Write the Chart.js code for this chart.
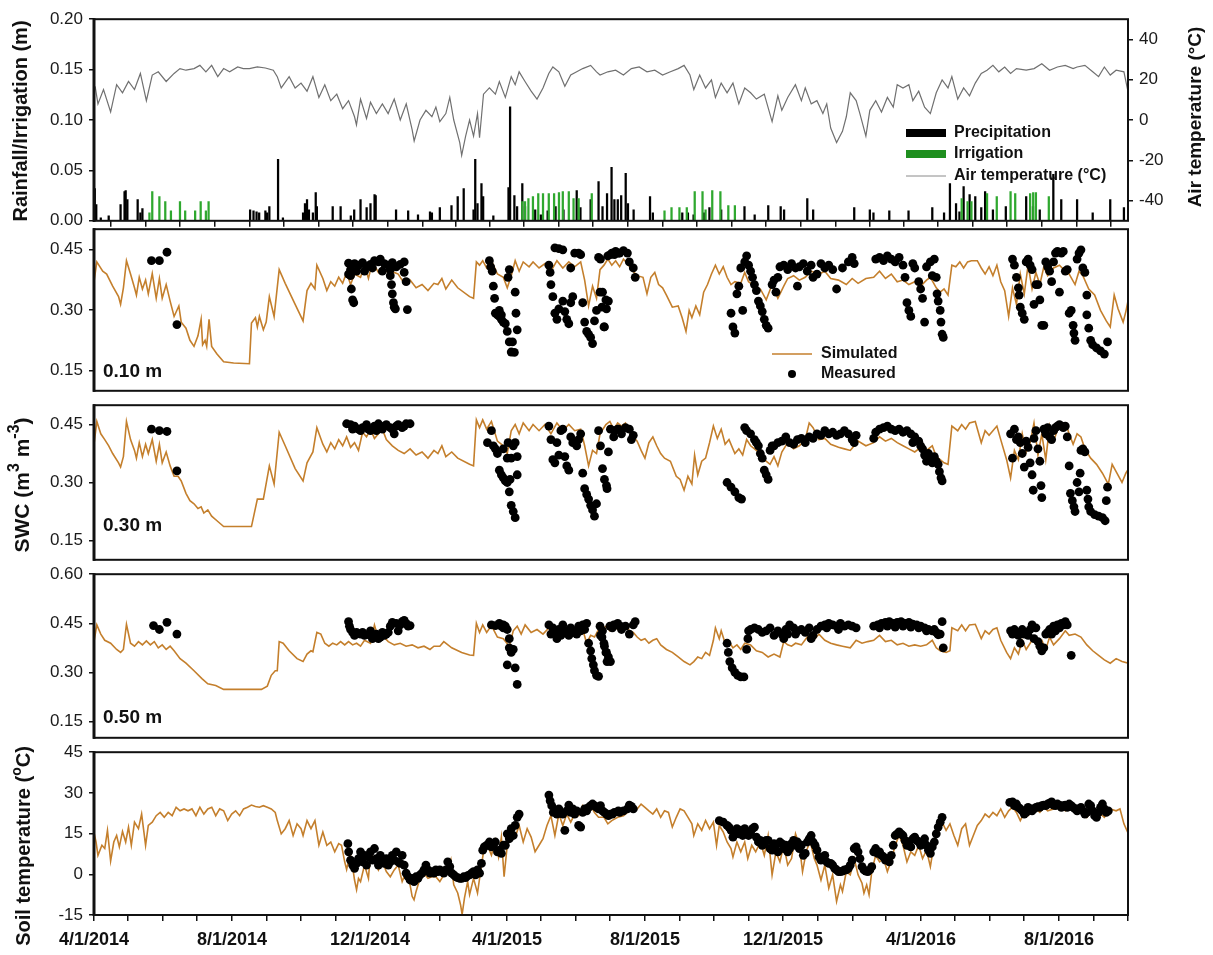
<!DOCTYPE html>
<html>
<head>
<meta charset="utf-8">
<script src="https://cdn.jsdelivr.net/npm/chart.js@4.4.1/dist/chart.umd.min.js"></script>
<style>
  body { margin: 0; background: #fff; }
  #wrap { position: relative; width: 1213px; height: 955px; overflow: hidden; background: #fff; }
  #wrap canvas { position: absolute; left: 0; }
</style>
</head>
<body>
<div id="wrap">
  <canvas id="p1"></canvas>
  <canvas id="p2"></canvas>
  <canvas id="p3"></canvas>
  <canvas id="p4"></canvas>
  <canvas id="p5"></canvas>
</div>
<script>
// x values are days since 4/1/2014
const dateLabels = ['4/1/2014', '8/1/2014', '12/1/2014', '4/1/2015', '8/1/2015', '12/1/2015', '4/1/2016', '8/1/2016'];
const rainTicks = [0, 0.05, 0.10, 0.15, 0.20];
const airTicks = [-40, -20, 0, 20, 40];
const swcTicks = [0.15, 0.30, 0.45];
const swcTicks50 = [0.15, 0.30, 0.45, 0.60];
const soilTicks = [-15, 0, 15, 30, 45];

// daily precipitation / irrigation (m)
const precip = [[0.7,0.032],[2,0.016],[6,0.003],[13,0.005],[23.5,0.016],[27,0.029],[28,0.030],[29.5,0.021],[38.6,0.021],[41,0.008],[42.8,0.012],
  [138,0.011],[141,0.010],[143.7,0.009],[146,0.008],[151.5,0.010],[153,0.008],[155,0.014],[162.7,0.061],[167,0.003],[184.8,0.008],[186.5,0.017],
  [188.3,0.021],[190,0.011],[193.5,0.008],[196,0.028],[197,0.014],[211,0.014],[218,0.014],[227,0.005],[230,0.011],[235.6,0.021],[241,0.013],
  [244.4,0.017],[248,0.026],[249,0.025],[267,0.011],[277.7,0.010],[286.4,0.006],[297,0.009],[298.7,0.008],[305.7,0.013],[316,0.015],[321.5,0.024],
  [326.8,0.032],[335.5,0.011],[337,0.061],[339,0.017],[342.5,0.037],[344,0.024],[353,0.005],[366.4,0.033],[367.8,0.113],[371.6,0.025],[374,0.014],
  [378.6,0.037],[381,0.014],[390,0.011],[395,0.006],[401,0.010],[408,0.014],[415,0.011],[426.7,0.030],[430,0.013],[439,0.021],[446,0.039],
  [449.5,0.014],[453.5,0.027],[457.5,0.053],[460,0.021],[463,0.021],[466,0.025],[470,0.047],[472,0.017],[477,0.011],[491.5,0.024],[494,0.008],
  [520,0.008],[525,0.008],[530,0.006],[539,0.008],[544,0.013],[554.4,0.011],[575,0.014],[584,0.006],[596,0.015],[607,0.014],[610,0.011],
  [630.5,0.022],[635.7,0.011],[672,0.013],[685.8,0.011],[689,0.008],[703,0.010],[720,0.010],[741,0.013],[751.4,0.008],[756.6,0.037],[762,0.017],
  [765,0.009],[768.7,0.034],[774,0.026],[779,0.024],[784.3,0.013],[787.7,0.029],[794.6,0.011],[806,0.014],[824,0.024],[830,0.014],[836,0.011],
  [848,0.046],[855,0.021],[869,0.021],[882.8,0.008],[898.3,0.021],[910.4,0.013]];
const irrigation = [[49,0.008],[51.5,0.029],[57.8,0.024],[63,0.019],[68,0.010],[76,0.019],[80.6,0.010],[89.4,0.010],[94.3,0.019],[98.9,0.010],[101.3,0.019],
  [378.6,0.019],[381,0.019],[384,0.022],[388,0.024],[392.7,0.027],[396.9,0.027],[402,0.027],[406.7,0.027],[411,0.028],[414.4,0.029],[419.7,0.029],
  [423.9,0.022],[428.4,0.022],[440,0.027],
  [504.3,0.010],[510.5,0.013],[517.5,0.013],[524,0.013],[531,0.029],[537.9,0.029],[540.6,0.011],[546.5,0.030],[553.7,0.029],[560.7,0.015],[566.5,0.015],
  [767,0.022],[772.2,0.019],[775.6,0.019],[789.4,0.027],[798,0.024],[810.2,0.029],[814.3,0.027],[827.5,0.027],[830.2,0.028],[832.6,0.028],[844,0.024]];

// air temperature (°C)
const airTemp = [[1,16.7],[3.5,8.0],[8.4,15.1],[14.7,4.0],[20,17.5],[25.2,13.5],[30.5,19.1],[35.8,15.1],[41,23.1],[46.3,9.6],[51.5,22.3],[56.8,23.9],
  [63.8,19.1],[70.8,23.1],[76,25.5],[81.3,24.7],[88.4,25.5],[93.6,27.1],[98.9,23.9],[104,27.1],[109.4,21.5],[114.6,25.5],[119.9,23.9],[127,26.3],
  [132,25.5],[137.4,25.5],[144.4,26.3],[151.5,25.8],[158.5,24.7],[162,21.5],[165.5,15.9],[172.5,21.5],[177.8,15.9],[183,18.3],[188.3,14.3],
  [193.5,21.5],[198.8,11.2],[204,17.5],[209.3,9.6],[214.6,12.8],[219.8,5.6],[225,9.6],[230.3,1.6],[232,-2.4],[235.6,10.4],[240.9,0.8],[244.4,8.8],
  [249.6,3.2],[254.9,8.0],[260,3.2],[265.4,10.4],[270.7,0],[276,8.0],[281.2,-4.8],[283,-10.4],[288.2,0],[293.4,4.8],[298.7,1.6],[302.2,6.4],
  [305.7,-0.8],[311,3.2],[314.5,11.2],[318,0],[323.3,-11.2],[325,-17.5],[328.5,-8.0],[332,0],[335.5,-8.0],[339,3.2],[340.8,-8.8],[344.3,12.8],
  [349.5,15.9],[354.8,12.8],[358.3,19.1],[363.6,11.2],[368.8,21.5],[372.3,17.5],[375.8,23.9],[381,19.1],[386.4,14.3],[391.6,10.4],[396.9,15.9],
  [402,23.1],[405.6,26.3],[410.9,23.9],[416.2,16.7],[421.4,22.3],[426.7,23.9],[432,25.5],[439,27.1],[444.2,23.9],
  [447.3,22.3],[454.2,23.9],[461.1,24.7],[468,22.3],[475,25.5],[481.9,26.3],[488.8,23.9],[495.7,24.7],[502.6,22.3],[509.5,23.9],[516.4,25.5],
  [521.6,27.1],[526.8,22.3],[530.2,15.1],[535.4,22.3],[540.6,15.9],[545.8,19.9],[549.3,11.2],[554.4,18.3],[559.6,13.5],[564.8,18.3],[570,8.0],
  [575.2,15.9],[580.4,13.5],[585.5,10.4],[592.5,12.8],[599.4,-0.8],[604.5,12.0],[608,4.8],[613.2,11.2],[620,17.5],[625.3,9.6],[628.7,15.9],
  [634,8.0],[639,9.6],[644.3,3.2],[647.7,8.0],[651.2,-4.0],[656.4,-11.2],[661.6,-5.6],[665,1.6],[668.5,13.5],[673.7,9.6],[677,3.2],[682.3,-8.0],
  [685.8,4.8],[691,9.6],[696.1,4.0],[701.3,11.2],[706.5,6.4],[710,17.5],[715.1,15.9],[720.3,17.5],[723.8,9.6],[729,14.3],[734.2,6.4],[739.3,3.2],
  [744.5,13.5],[749.7,19.9],[754.9,15.9],[758.3,21.5],[763.5,10.4],[768.7,15.9],[773.9,12.0],[779,18.3],[784.3,23.1],[789.4,24.7],[794.6,27.1],
  [799.8,23.9],[805,26.3],[810.2,23.1],[815.4,25.5],[824,24.7],[831,25.5],[837.8,27.9],[844.7,24.7],[851.6,26.3],[858.5,27.1],[865.5,25.5],
  [869,26.3],[875.9,27.1],[882.8,23.9],[888,21.5],[893.1,26.3],[898.3,22.3],[903.5,24.7],[910.4,23.9],[913.9,14.3]];

// SWC at 0.10 m (m3 m-3)
const sim010 = [[0,0.370],[2.5,0.419],[7.7,0.396],[11.2,0.389],[16.5,0.359],[21.7,0.333],[23.5,0.314],[26,0.355],[28.7,0.422],[32.3,0.389],
  [35.8,0.355],[37.5,0.337],[40,0.381],[42.8,0.352],[45.6,0.374],[48,0.340],[51.5,0.390],[55,0.329],[57.8,0.378],[60.3,0.329],[63.8,0.363],
  [67.3,0.322],[70.8,0.284],[75,0.310],[77.1,0.270],[81.3,0.255],[84.8,0.225],[88.4,0.210],[91.9,0.236],[94.7,0.277],[96,0.214],[98.2,0.225],
  [99.6,0.210],[101.7,0.277],[104,0.210],[108.7,0.191],[114.6,0.172],[123.4,0.169],[137.4,0.167],[139.2,0.268],[142.7,0.281],[144.4,0.258],
  [146.2,0.284],[149.7,0.251],[152.2,0.270],[155,0.333],[159.2,0.284],[163.7,0.400],[169,0.366],[177.8,0.314],[184.8,0.273],[188.3,0.348],
  [191.8,0.366],[195.3,0.352],[197,0.411],[202.3,0.378],[205.8,0.348],[209.3,0.370],[212.8,0.359],[216.3,0.381],[219.8,0.366],[223.3,0.393],
  [226.8,0.363],[230.3,0.389],[235.6,0.381],[239.1,0.411],[242.6,0.378],[246.1,0.419],[251.4,0.393],[254.9,0.407],[258.4,0.396],[261.9,0.389],
  [265.4,0.393],[268.9,0.389],[274.2,0.366],[279.4,0.374],[284.7,0.355],[290,0.363],[295.2,0.348],[300.5,0.366],[304,0.363],[307.5,0.378],
  [311,0.352],[316.2,0.374],[321.5,0.355],[332,0.333],[335.5,0.329],[338,0.419],[340.8,0.411],[343.6,0.422],[347.1,0.404],[351.3,0.422],
  [356.6,0.389],[361.8,0.381],[365.3,0.355],[368.8,0.385],[372.3,0.422],[375.8,0.396],[379.4,0.419],[384.6,0.407],[388.1,0.419],[393.4,0.404],
  [398.6,0.415],[403.9,0.396],[409.2,0.422],[414.4,0.404],[419.7,0.419],[424.9,0.407],[430.2,0.419],[433.7,0.374],[437.2,0.310],[440.7,0.359],
  [444.2,0.329],[447.3,0.400],[450.8,0.411],[454.2,0.426],[457.7,0.411],[461.1,0.422],[464.6,0.407],[468,0.426],[471.5,0.415],[475,0.400],
  [480.1,0.385],[485.3,0.381],[488.8,0.340],[492.2,0.381],[495.7,0.393],[499.1,0.363],[502.6,0.355],[506,0.337],[511.2,0.307],[516.4,0.310],
  [519.9,0.281],[523.3,0.247],[526.1,0.299],[528.5,0.281],[532,0.310],[535.4,0.288],[538.9,0.344],[542.3,0.363],[545.8,0.389],[549.3,0.411],
  [552.7,0.389],[556.2,0.407],[559.6,0.381],[563.1,0.363],[566.5,0.370],[571.7,0.366],[575.2,0.393],[578.6,0.370],[583.8,0.359],[589,0.352],
  [594.2,0.325],[599.4,0.363],[604.5,0.329],[609.7,0.359],[613.2,0.378],[618.4,0.385],[623.5,0.374],[628.7,0.381],[633.9,0.396],[640.8,0.389],
  [646,0.396],[651.2,0.378],[658.1,0.374],[665,0.363],[670.2,0.378],[675.4,0.366],[682.3,0.378],[689.2,0.381],[694.4,0.396],[699.6,0.378],
  [704.8,0.389],[710,0.370],[715.1,0.374],[720.3,0.363],[725.5,0.370],[730.7,0.359],[735.9,0.374],[739.3,0.381],[744.5,0.355],[748,0.344],
  [751.4,0.352],[754.9,0.337],[758.3,0.411],[761.8,0.407],[765.3,0.419],[768.7,0.404],[772.2,0.419],[775.6,0.422],[780.8,0.422],[784.3,0.404],
  [787.7,0.389],[791.2,0.407],[794.6,0.385],[798.1,0.411],[801.5,0.370],[805,0.348],[808.5,0.284],[811.9,0.355],[815.4,0.314],[818.8,0.389],
  [822.3,0.340],[825.7,0.411],[829.2,0.352],[832.6,0.393],[836.1,0.363],[839.6,0.407],[843,0.385],[848.2,0.404],[853.4,0.411],[858.6,0.396],
  [862,0.389],[867.2,0.363],[870.7,0.396],[874.1,0.385],[879.3,0.352],[884.5,0.337],[889.7,0.299],[894.8,0.273],[898.3,0.258],[901.8,0.337],
  [905.2,0.303],[909.7,0.270],[912.1,0.296],[914.5,0.329]];
const obs010 = [[50.8,0.422],[57.8,0.422],[64.5,0.443],[73.3,0.264],
  [225,0.416],[230.3,0.415],[233.8,0.411],[237.4,0.417],[240.9,0.407],[244.4,0.413],[247.9,0.422],[251.4,0.419],[253.1,0.426],[256.6,0.415],
  [260.1,0.411],[263.7,0.417],[267.2,0.407],[270.7,0.413],[274.2,0.419],[226.8,0.400],[232.1,0.396],[239.1,0.396],[246.1,0.404],[254.9,0.396],
  [261.9,0.400],[225,0.389],[226.8,0.385],[227.5,0.352],[228.6,0.325],[229.6,0.318],[261.9,0.385],[263,0.363],[263.7,0.340],[264.7,0.318],
  [265.4,0.307],[266.4,0.303],[274.2,0.393],[275.9,0.370],[277,0.301],
  [349.5,0.422],[350.6,0.407],[352,0.396],[353,0.359],[354.1,0.329],[354.8,0.292],[356.6,0.288],[358.3,0.284],[360.1,0.277],[361.8,0.270],
  [363.6,0.266],[365.3,0.247],[367.1,0.221],[368.8,0.196],[371.6,0.195],[369.9,0.221],[366,0.381],[367.1,0.400],[372.3,0.344],[373,0.292],
  [374.1,0.251],[358.3,0.299],[360.1,0.288],
  [402.1,0.411],[403.2,0.393],[403.9,0.363],[405.6,0.333],[407.4,0.454],[410.9,0.452],[414.4,0.449],[407.4,0.292],[409.2,0.277],[410.9,0.303],
  [414.4,0.322],[416.2,0.296],[417.9,0.277],[419.7,0.266],[421.4,0.318],[421.4,0.404],[423.2,0.333],[424.9,0.441],[428.4,0.441],[430.2,0.437],
  [432,0.318],[433.7,0.270],[435.5,0.247],[437.2,0.240],[439,0.232],[440.7,0.217],[442.4,0.273],[444.2,0.299],[446,0.430],[447.7,0.426],
  [449.5,0.344],[451.2,0.258],[453,0.303],[454.7,0.322],[456.5,0.437],[460,0.437],[463.5,0.441],[447.3,0.344],[449,0.307],[450.8,0.258],
  [452.5,0.325],[454.2,0.434],[457.7,0.441],[461.1,0.445],[464.6,0.441],[468,0.447],[471.5,0.441],[473.2,0.419],[476.7,0.404],[478.4,0.381],
  [563.1,0.292],[564.8,0.258],[566.5,0.243],[568.3,0.340],[570,0.359],[571.7,0.404],[573.4,0.299],[575.2,0.419],[576.9,0.434],[578.6,0.411],
  [580.4,0.396],[582.1,0.381],[583.8,0.363],[585.5,0.348],[587.3,0.322],[589,0.310],[590.7,0.296],[592.5,0.277],[594.2,0.262],[595.9,0.255],
  [599.4,0.363],[601.1,0.374],[602.8,0.344],[604.5,0.381],[606.3,0.407],[609.7,0.411],[613.2,0.400],[616.6,0.415],[620.1,0.404],[621.8,0.359],
  [623.5,0.407],[627,0.415],[630.5,0.396],[633.9,0.411],[635.6,0.381],[639.1,0.389],[642.6,0.415],[646,0.404],[649.5,0.411],[653,0.400],
  [656.4,0.352],[661.6,0.404],[666.8,0.419],[670.2,0.430],[672,0.415],
  [691,0.426],[694.4,0.430],[697.9,0.422],[701.3,0.434],[704.8,0.426],[708.2,0.419],[711.7,0.430],[715.1,0.411],[716.9,0.381],[718.6,0.318],
  [720.3,0.299],[722,0.284],[723.8,0.415],[725.5,0.404],[729,0.370],[730.7,0.352],[732.4,0.329],[734.2,0.270],[735.9,0.407],[739.3,0.419],
  [741,0.385],[742.8,0.426],[744.5,0.381],[745.2,0.340],[746.2,0.322],[748,0.299],[748.7,0.270],[749.7,0.240],[750.7,0.232],
  [811.9,0.426],[813.6,0.411],[815.4,0.381],[817.1,0.355],[817.8,0.337],[818.8,0.307],[820.5,0.292],[822.3,0.277],[824,0.419],[825.7,0.426],
  [827.5,0.411],[829.2,0.400],[830.9,0.314],[832.6,0.363],[834.4,0.363],[836.1,0.325],[837.8,0.262],[839.6,0.262],[841.3,0.419],[843,0.407],
  [844.7,0.396],[846.5,0.370],[848.2,0.419],[849.9,0.441],[851.6,0.445],[853.4,0.344],[855.1,0.441],[856.8,0.445],[858.6,0.396],[860.3,0.400],
  [862,0.292],[863.8,0.299],[865.5,0.262],[866.2,0.243],[867.2,0.225],[869,0.426],[870.7,0.441],[872.4,0.449],[874.1,0.404],[875.9,0.393],
  [877.6,0.337],[877.6,0.288],[879.3,0.255],[881,0.225],[882.8,0.214],[886.2,0.206],[889.7,0.199],[893.1,0.191],[895.9,0.221]];

// SWC at 0.30 m
const sim030 = [[0,0.399],[2.5,0.458],[6,0.426],[9.5,0.411],[13,0.395],[16.5,0.375],[21.7,0.351],[23.5,0.340],[26,0.367],[28.7,0.458],
  [32.3,0.411],[35.8,0.383],[37.5,0.363],[40,0.403],[42.8,0.367],[45.6,0.399],[48,0.375],[51.5,0.411],[55,0.355],[57.8,0.399],[60.3,0.351],
  [63.8,0.379],[67.3,0.343],[70.8,0.316],[74.3,0.316],[77.1,0.304],[81.3,0.272],[84.8,0.253],[88.4,0.245],[91.9,0.233],[94.7,0.237],[97.1,0.221],
  [100.6,0.229],[104,0.213],[108.7,0.201],[114.6,0.186],[126.9,0.186],[139.2,0.186],[144.4,0.257],[149.7,0.257],[155,0.343],[159.2,0.296],
  [163.7,0.430],[169,0.395],[177.8,0.336],[184.8,0.304],[188.3,0.351],[193.5,0.379],[197,0.442],[202.3,0.399],[205.8,0.379],[209.3,0.403],
  [212.8,0.387],[216.3,0.411],[219.8,0.395],[223.3,0.418],[226.8,0.391],[230.3,0.403],[233.8,0.383],[237.4,0.430],[240.9,0.418],[244.4,0.438],
  [247.9,0.414],[251.4,0.426],[254.9,0.438],[258.4,0.411],[263.7,0.395],[268.9,0.383],[274.2,0.375],[279.4,0.387],[284.7,0.371],[290,0.379],
  [295.2,0.363],[300.5,0.383],[304,0.375],[307.5,0.395],[311,0.367],[316.2,0.379],[321.5,0.363],[332,0.347],[335.5,0.343],[338,0.462],
  [340.8,0.442],[343.6,0.462],[347.1,0.438],[351.3,0.458],[356.6,0.407],[361.8,0.395],[365.3,0.375],[368.8,0.434],[372.3,0.450],[375.8,0.426],
  [379.4,0.454],[384.6,0.434],[388.1,0.450],[393.4,0.434],[398.6,0.450],[403.9,0.426],[409.2,0.454],[414.4,0.434],[419.7,0.450],[424.9,0.434],
  [430.2,0.438],[433.7,0.395],[437.2,0.343],[440.7,0.383],[444.2,0.375],[447.3,0.426],[452.5,0.450],[456,0.458],[459.4,0.438],[462.9,0.454],
  [466.3,0.446],[469.8,0.454],[473.2,0.430],[476.7,0.418],[480.1,0.407],[483.6,0.383],[487,0.363],[490.5,0.403],[494,0.418],[497.4,0.395],
  [500.9,0.375],[504.3,0.363],[509.5,0.355],[514.7,0.316],[518.1,0.308],[521.6,0.280],[525,0.316],[528.5,0.296],[530.9,0.371],[533.7,0.320],
  [537.2,0.355],[540.6,0.363],[544.1,0.403],[547.5,0.446],[551,0.414],[554.4,0.438],[557.9,0.399],[561.3,0.411],[566.5,0.375],[570,0.387],
  [573.4,0.371],[576.9,0.411],[580.4,0.395],[585.5,0.383],[589,0.375],[592.5,0.359],[597.6,0.347],[601.1,0.367],[604.5,0.343],[608,0.379],
  [613.2,0.403],[618.4,0.387],[623.5,0.395],[628.7,0.411],[632.2,0.454],[635.6,0.442],[640.8,0.411],[646,0.414],[651.2,0.399],[658.1,0.391],
  [663.3,0.387],[668.5,0.383],[675.4,0.407],[682.3,0.395],[689.2,0.403],[694.4,0.418],[699.6,0.407],[704.8,0.414],[710,0.403],[715.1,0.395],
  [720.3,0.387],[725.5,0.379],[730.7,0.391],[735.9,0.383],[741,0.395],[744.5,0.367],[748,0.359],[751.4,0.351],[754.9,0.347],[758.3,0.446],
  [763.5,0.434],[767,0.450],[770.4,0.438],[773.9,0.454],[779,0.458],[784.3,0.403],[787.7,0.434],[791.2,0.422],[794.6,0.434],[798.1,0.446],
  [801.5,0.411],[806.7,0.359],[810.2,0.312],[813.6,0.383],[817.1,0.359],[820.5,0.426],[824,0.379],[827.5,0.403],[830.9,0.454],[834.4,0.371],
  [837.8,0.426],[841.3,0.359],[844.7,0.446],[848.2,0.407],[853.4,0.450],[858.6,0.454],[862,0.426],[865.5,0.399],[869,0.426],[872.4,0.418],
  [875.9,0.387],[881,0.363],[886.2,0.347],[891.4,0.324],[896.6,0.296],[900,0.347],[903.5,0.328],[908.7,0.300],[912.1,0.324],[914.5,0.336]];
const obs030 = [[50.8,0.438],[57.8,0.434],[64.5,0.432],[73.3,0.330],
  [223.3,0.452],[226.8,0.450],[230.3,0.446],[233.8,0.438],[237.4,0.442],[240.9,0.450],[244.4,0.434],[247.9,0.446],[251.4,0.452],[254.9,0.438],
  [258.4,0.450],[261.9,0.442],[265.4,0.426],[268.9,0.450],[272.4,0.442],[275.9,0.452],[279.4,0.452],[228.6,0.438],[235.6,0.434],[242.6,0.438],
  [249.6,0.434],[256.6,0.446],[263.7,0.438],[267.2,0.446],[274.2,0.446],
  [347.8,0.403],[351.3,0.434],[353,0.395],[354.8,0.387],[356.6,0.375],[358.3,0.332],[360.1,0.320],[361.8,0.312],[363.6,0.304],[365.3,0.300],
  [367.1,0.276],[368.8,0.241],[370.6,0.225],[372.3,0.209],[367.8,0.308],[368.8,0.363],[370.6,0.395],[372.3,0.403],[374.1,0.367],[374.1,0.320],
  [365.3,0.363],[361.8,0.387],[366,0.403],
  [402.1,0.446],[403.9,0.411],[405.6,0.359],[407.4,0.351],[409.2,0.403],[410.9,0.371],[412.7,0.434],[414.4,0.438],[416.2,0.367],[417.9,0.343],
  [419.7,0.332],[421.4,0.418],[423.2,0.403],[424.9,0.403],[426.7,0.395],[428.4,0.411],[430.2,0.426],[432,0.324],[433.7,0.284],[435.5,0.269],
  [437.2,0.257],[439,0.241],[440.7,0.229],[442.4,0.213],[444.2,0.245],[446,0.434],[447.7,0.395],[449.5,0.336],[451.2,0.308],[453,0.292],
  [454.7,0.379],[456.5,0.438],[460,0.434],[463.5,0.438],[453.5,0.284],[459.4,0.418],[462.9,0.438],[466.3,0.426],[469.8,0.442],[473.2,0.438],
  [475,0.411],[476.7,0.422],
  [559.6,0.300],[563.1,0.288],[566.5,0.276],[570,0.261],[572.4,0.257],[575.2,0.442],[576.9,0.434],[580.4,0.426],[583.8,0.411],[585.5,0.403],
  [587.3,0.395],[589,0.375],[590.7,0.363],[592.5,0.332],[594.2,0.320],[595.9,0.308],[597.6,0.383],[599.4,0.395],[601.1,0.395],[604.5,0.403],
  [608,0.407],[611.5,0.418],[614.9,0.403],[618.4,0.399],[621.8,0.411],[625.3,0.414],[628.7,0.403],[632.2,0.418],[635.6,0.414],[639.1,0.426],
  [642.6,0.422],[646,0.434],[649.5,0.426],[653,0.430],[656.4,0.422],[659.8,0.426],[663.3,0.434],[666.8,0.426],[670.2,0.411],[672,0.403],[673.7,0.422],
  [689.2,0.414],[691,0.430],[694.4,0.438],[697.9,0.442],[701.3,0.446],[704.8,0.438],[708.2,0.434],[711.7,0.438],[715.1,0.430],[718.6,0.434],
  [722,0.426],[723.8,0.403],[725.5,0.418],[729,0.407],[730.7,0.395],[732.4,0.387],[734.2,0.371],[735.9,0.355],[737.6,0.375],[739.3,0.363],
  [741,0.351],[742.8,0.367],[744.5,0.355],[746.2,0.347],[747.3,0.328],[748.7,0.312],[749.7,0.304],
  [810.2,0.426],[811.9,0.363],[813.6,0.438],[815.4,0.411],[817.1,0.418],[818.8,0.403],[820.5,0.375],[822.3,0.340],[824,0.407],[825.7,0.391],
  [827.5,0.351],[829.2,0.320],[830.2,0.280],[830.9,0.414],[832.6,0.434],[834.4,0.387],[836.1,0.355],[837.1,0.292],[837.8,0.261],[839.6,0.438],
  [841.3,0.426],[843,0.442],[844.7,0.418],[846.5,0.411],[848.2,0.434],[849.9,0.442],[851.6,0.446],[853.4,0.450],[855.1,0.446],[856.8,0.442],
  [858.6,0.446],[860.3,0.418],[862,0.343],[863.1,0.272],[864.8,0.253],[866.2,0.237],[867.2,0.225],[869,0.300],[870.7,0.276],[871.7,0.324],
  [872.4,0.383],[874.1,0.387],[875.9,0.379],[877.6,0.280],[878.6,0.257],[879.3,0.237],[881,0.225],[884.5,0.217],[888,0.213],[891.4,0.209],
  [893.8,0.201],[894.8,0.253],[895.9,0.288]];

// SWC at 0.50 m
const sim050 = [[0,0.394],[2.5,0.445],[6,0.417],[9.5,0.398],[14.7,0.389],[20,0.370],[23.5,0.361],[26,0.370],[28.7,0.447],[32.3,0.389],
  [35.8,0.380],[39.3,0.394],[42.8,0.384],[46.3,0.396],[49.8,0.384],[53.3,0.394],[56.8,0.375],[60.3,0.384],[63.8,0.370],[67.3,0.380],[70.8,0.366],
  [76.1,0.342],[81.3,0.328],[88.4,0.305],[95.4,0.281],[100.6,0.265],[107.6,0.260],[114.6,0.248],[126.9,0.248],[148,0.248],[153.2,0.258],
  [156.7,0.291],[160.2,0.305],[162,0.305],[163.7,0.394],[167.2,0.389],[172.5,0.366],[179.5,0.342],[184.8,0.333],[188.3,0.356],[191.8,0.366],
  [193.5,0.363],[197,0.422],[200.5,0.417],[204,0.389],[207.6,0.380],[211,0.389],[214.6,0.384],[218,0.394],[221.6,0.384],[225,0.394],
  [228.6,0.384],[232.1,0.389],[235.6,0.380],[239.1,0.398],[244.4,0.389],[247.9,0.445],[251.4,0.403],[254.9,0.413],[260.1,0.394],[265.4,0.384],
  [270.7,0.389],[275.9,0.380],[281.2,0.384],[286.4,0.375],[291.7,0.380],[297,0.370],[300.5,0.380],[305.7,0.380],[309.2,0.394],[316.2,0.375],
  [325,0.361],[332,0.353],[335.5,0.352],[338,0.450],[340.8,0.422],[343.6,0.445],[347.1,0.422],[351.3,0.443],[356.6,0.408],[361.8,0.403],
  [367.1,0.380],[370.6,0.427],[374.1,0.441],[377.6,0.417],[381.1,0.445],[386.4,0.422],[391.6,0.431],[396.9,0.417],[402.1,0.436],[407.4,0.417],
  [412.7,0.431],[417.9,0.422],[423.2,0.436],[428.4,0.427],[432,0.431],[435.5,0.389],[439,0.413],[442.4,0.408],[446,0.431],[447.3,0.427],
  [452.5,0.441],[456,0.427],[459.4,0.445],[462.9,0.431],[466.3,0.441],[469.8,0.450],[473.2,0.427],[476.7,0.422],[480.1,0.408],[483.6,0.398],
  [487,0.403],[490.5,0.389],[494,0.398],[497.4,0.403],[500.9,0.384],[506,0.370],[511.2,0.361],[516.4,0.347],[521.6,0.333],[526.8,0.323],
  [530.2,0.333],[533.7,0.347],[537.2,0.342],[540.6,0.361],[544.1,0.352],[547.5,0.398],[549.3,0.436],[552.7,0.403],[554.4,0.427],[557.9,0.389],
  [561.3,0.394],[564.8,0.375],[568.3,0.384],[571.7,0.370],[575.2,0.389],[580.4,0.384],[585.5,0.366],[590.7,0.361],[595.9,0.347],[601.1,0.356],
  [606.3,0.347],[609.7,0.394],[613.2,0.384],[616.6,0.380],[620.1,0.389],[625.3,0.384],[630.5,0.408],[633.9,0.413],[637.4,0.403],[640.8,0.417],
  [646,0.398],[651.2,0.389],[656.4,0.384],[661.6,0.380],[668.5,0.375],[673.7,0.398],[678.9,0.389],[684,0.394],[689.2,0.398],[694.4,0.413],
  [699.6,0.394],[704.8,0.398],[710,0.384],[715.1,0.389],[720.3,0.380],[725.5,0.384],[730.7,0.380],[735.9,0.384],[741,0.398],[744.5,0.375],
  [748,0.366],[753.2,0.361],[756.6,0.366],[758.3,0.436],[763.5,0.427],[767,0.445],[770.4,0.427],[773.9,0.445],[779,0.447],[784.3,0.403],
  [787.7,0.427],[791.2,0.417],[794.6,0.431],[798.1,0.436],[801.5,0.398],[806.7,0.361],[810.2,0.342],[813.6,0.375],[817.1,0.356],[820.5,0.398],
  [824,0.370],[827.5,0.389],[830.9,0.408],[834.4,0.389],[837.8,0.398],[841.3,0.370],[844.7,0.408],[848.2,0.384],[853.4,0.403],[858.6,0.427],
  [862,0.413],[867.2,0.417],[872.4,0.408],[877.6,0.384],[882.8,0.366],[888,0.352],[893.1,0.338],[898.3,0.328],[903.5,0.342],[908.7,0.333],
  [914.5,0.328]];
const obs050 = [[52.6,0.443],[57.8,0.431],[64.5,0.453],[73.3,0.417],
  [225,0.455],[225.8,0.441],[226.8,0.431],[228.6,0.422],[232.1,0.422],[235.6,0.417],[239.1,0.413],[242.6,0.415],[246.1,0.403],[249.6,0.417],
  [253.1,0.408],[256.6,0.413],[260.1,0.422],[261.9,0.441],[263.7,0.453],[267.2,0.450],[270.7,0.445],[274.2,0.459],[277.7,0.441],[230.3,0.413],
  [237.4,0.422],[244.4,0.427],[251.4,0.403],[254.9,0.422],[258.4,0.417],[268.9,0.427],[272.4,0.455],[275.9,0.450],[279.4,0.443],
  [351.3,0.445],[354.8,0.443],[358.3,0.450],[361.8,0.445],[363.6,0.441],[365.3,0.431],[367.1,0.403],[367.1,0.375],[368.8,0.361],[365.3,0.323],
  [370.6,0.370],[372.3,0.314],[374.1,0.263],[361.8,0.436],[360.1,0.441],
  [402.1,0.445],[405.6,0.436],[407.4,0.422],[410.9,0.431],[414.4,0.445],[417.9,0.427],[421.4,0.436],[424.9,0.422],[428.4,0.441],[432,0.445],
  [435.5,0.450],[403.9,0.417],[409.2,0.403],[412.7,0.413],[416.2,0.422],[419.7,0.413],[423.2,0.422],[426.7,0.417],[430.2,0.427],[433.7,0.431],
  [437.2,0.389],[439,0.366],[440,0.342],[441.4,0.323],[442.4,0.305],[444.2,0.291],[446,0.288],[447.7,0.413],[449.5,0.427],[451.2,0.380],
  [453,0.361],[454.7,0.347],[456.5,0.333],[458.2,0.436],[461.8,0.445],[465.3,0.441],[447.3,0.441],[449,0.408],[450.8,0.389],[452.5,0.361],
  [453.5,0.333],[456,0.441],[459.4,0.445],[462.9,0.450],[466.3,0.431],[469.8,0.441],[473.2,0.417],[476.7,0.445],[478.4,0.455],
  [559.6,0.389],[560.7,0.361],[562,0.333],[564.1,0.314],[566.5,0.300],[569,0.291],[571.7,0.286],[574.5,0.286],[576.9,0.370],[578,0.403],
  [578.6,0.427],[580.4,0.431],[583.8,0.436],[587.3,0.431],[590.7,0.422],[594.2,0.427],[597.6,0.436],[601.1,0.413],[604.5,0.427],[608,0.417],
  [611.5,0.431],[614.9,0.445],[618.4,0.436],[621.8,0.427],[625.3,0.431],[628.7,0.422],[632.2,0.436],[635.6,0.413],[639.1,0.431],[642.6,0.441],
  [646,0.445],[649.5,0.450],[653,0.445],[656.4,0.441],[659.8,0.450],[663.3,0.441],[666.8,0.445],[670.2,0.441],[673.7,0.436],[609.7,0.403],
  [613.2,0.417],[620.1,0.417],[633.9,0.403],[647.7,0.436],[658.1,0.431],
  [689.2,0.441],[692.7,0.445],[696.1,0.450],[699.6,0.453],[703,0.455],[706.5,0.450],[710,0.453],[713.4,0.455],[716.9,0.450],[720.3,0.453],
  [723.8,0.447],[727.2,0.445],[730.7,0.441],[734.2,0.436],[737.6,0.431],[741,0.427],[744.5,0.422],[748,0.417],[749.7,0.455],[750.7,0.375],
  [694.4,0.436],[701.3,0.441],[708.2,0.438],[715.1,0.441],[722,0.438],[729,0.436],[735.9,0.427],[742.8,0.431],[746.2,0.415],
  [810.2,0.427],[811.9,0.417],[813.6,0.431],[815.4,0.422],[817.1,0.413],[818.8,0.389],[820.5,0.431],[822.3,0.417],[824,0.422],[825.7,0.413],
  [827.5,0.431],[829.2,0.445],[830.9,0.403],[832.6,0.436],[834.4,0.394],[836.1,0.380],[837.8,0.366],[839.6,0.375],[841.3,0.417],[843,0.422],
  [844.7,0.431],[846.5,0.417],[848.2,0.441],[849.9,0.427],[851.6,0.445],[853.4,0.436],[855.1,0.450],[856.8,0.445],[858.6,0.455],[860.3,0.445],
  [863.8,0.352]];

// soil temperature (°C)
const simSoilT = [[0,15.3],[1.8,11.9],[3.5,7.0],[7,10.7],[9.5,9.5],[11.9,16.2],[14.7,4.9],[17.5,11.9],[20,14.3],[22.4,10.1],[25.2,15.8],
  [28,11.9],[30.5,17.4],[33,10.7],[35.8,19.2],[39.3,16.8],[42.1,22.2],[45.6,10.7],[48,18.0],[51.5,19.2],[55,21.6],[58.5,22.8],[62.1,21.0],
  [65.6,22.8],[69.1,21.6],[72.6,24.7],[76.1,23.4],[79.6,24.1],[83.1,23.4],[86.6,24.1],[90.1,21.6],[93.6,24.7],[97.1,22.2],[100.6,24.1],
  [104.1,24.7],[107.6,21.6],[111.1,24.1],[114.6,23.4],[118.2,19.8],[121.7,22.2],[125.2,23.4],[128.7,21.6],[132.2,24.1],[135.7,24.7],
  [139.2,25.5],[142.7,25.0],[146.2,24.7],[149.7,25.3],[153.2,24.7],[156.7,24.1],[160.2,22.8],[162,19.8],[165.5,14.9],[169,16.8],[172.5,19.8],
  [176,14.3],[179.5,18.6],[183,16.8],[184.8,14.3],[188.3,19.8],[191.8,16.8],[195.3,19.8],[198.8,10.7],[202.3,15.6],[205.8,10.7],[209.3,11.9],
  [212.8,8.3],[216.3,11.3],[218.8,10.7],[221.6,4.6],[223.3,1.8],[225.1,5.2],[226.8,7.0],[228.6,2.8],[230.3,-2.1],[232.1,-5.7],[233.8,-1.5],
  [235.6,-2.7],[239.1,3.4],[242.6,-1.5],[244.4,8.3],[247.9,5.2],[251.4,1.6],[254.9,4.6],[258.4,1.0],[261.9,-0.9],[265.4,1.6],[268.9,3.4],
  [272.4,-2.7],[275.9,1.0],[279.4,-3.9],[281.2,-8.1],[282.9,-9.4],[284.7,-6.3],[288.2,-1.5],[291.7,0.4],[295.2,-1.5],[298.7,-0.9],[302.2,-0.9],
  [305.7,-2.7],[309.2,-0.2],[312.7,0.4],[315.5,5.2],[318,-3.9],[321.5,-6.9],[324,-11.2],[325.4,-14.8],[327.5,-8.7],[330.3,-2.7],[332,-7.5],
  [335.5,-1.5],[339,-6.9],[341.5,0.4],[344.3,8.3],[347.8,10.7],[351.3,7.0],[354.8,12.5],[357.6,6.4],[360.1,13.7],[362.5,-0.9],[365.3,10.7],
  [368.8,14.9],[372.3,13.7],[375.8,18.0],[379.4,11.9],[382.9,16.8],[386.4,13.7],[389.9,8.3],[393.4,10.7],[396.9,13.1],[400.4,18.0],[403.9,21.6],
  [407.4,14.3],[410.9,22.2],[414.4,18.0],[417.9,22.2],[421.4,19.2],[424.9,22.2],[428.4,21.6],[432,25.3],[435.5,23.4],[439,25.3],[442.4,22.8],
  [446,21.0],[450.8,21.0],[454.2,18.6],[457.7,19.8],[462.9,21.0],[468,21.6],[473.2,23.4],[476.7,24.7],[480.1,24.1],[483.6,25.9],[487,24.7],
  [490.5,23.4],[494,22.2],[497.4,24.1],[500.9,21.0],[504.3,23.4],[507.8,22.8],[511.2,17.4],[514.7,21.0],[518.1,24.1],[521.6,23.4],[525.1,21.0],
  [528.5,18.6],[530.2,14.3],[533.7,18.6],[537.2,16.2],[540.6,19.8],[544.1,16.8],[547.5,19.2],[550.3,10.7],[552.7,18.0],[556.2,15.6],[559.6,11.9],
  [563.1,9.5],[564.8,6.4],[568.3,11.9],[571.7,8.3],[575.2,11.9],[577.9,5.8],[581.4,10.7],[584.9,8.3],[589,11.9],[592.5,7.0],[595.9,14.3],
  [599.4,-0.2],[602.8,8.3],[606.3,4.6],[609.7,10.7],[613.2,3.4],[616.6,5.8],[620.1,14.9],[623.5,10.7],[626.3,1.0],[629.8,8.9],[633.2,11.9],
  [636.7,5.8],[639.1,3.4],[642.6,-2.1],[646,3.4],[649.5,-5.1],[652.9,-0.2],[656.4,-10.0],[659.8,-3.9],[661.6,-6.3],[665,1.0],[668.5,-0.2],
  [672,5.8],[675.4,-0.2],[678.9,-3.3],[680.6,-6.9],[683,-3.9],[685.1,-7.5],[687.5,1.0],[690.9,7.0],[694.4,4.6],[697.9,5.8],[701.3,1.0],
  [704.8,5.2],[708.2,10.7],[711.7,14.3],[715.1,10.7],[718.6,4.6],[722,8.3],[725.5,7.0],[729,10.7],[732.4,5.8],[735.9,8.9],[739.3,2.8],
  [742.8,11.9],[746.2,15.6],[749.7,19.2],[753.2,16.2],[756.6,18.6],[760.1,14.3],[763.5,10.7],[767,16.8],[770.4,18.6],[773.9,10.7],[777.3,14.3],
  [780.8,18.0],[784.3,19.8],[787.7,22.2],[791.2,21.0],[794.6,22.8],[798.1,21.6],[801.5,24.1],[805,21.0],[808.5,23.4],[811.9,24.7],[815.4,22.8],
  [818.8,19.8],[822.3,22.8],[825.7,21.6],[829.2,23.4],[832.6,24.1],[836.1,22.8],[839.6,24.7],[843,23.4],[848.2,24.1],[853.4,25.3],[858.6,23.4],
  [863.8,24.7],[869,22.2],[874.1,23.4],[877.6,21.0],[882.8,23.4],[888,22.8],[893.1,21.0],[898.3,24.1],[903.5,23.4],[906.9,24.1],[910.4,18.6],
  [913.9,15.3]];
const obsSoilT = [[224.4,11.3],[225.1,8.3],[226.8,5.2],[228.6,3.4],[230.3,2.2],[232.1,4.0],[233.8,5.8],[235.6,8.3],[237.4,4.6],[239.1,7.0],
  [240.9,3.4],[242.6,6.4],[244.4,8.3],[246.1,5.2],[247.9,9.5],[249.6,5.8],[251.4,3.4],[253.1,7.0],[254.9,5.2],[256.6,4.0],[258.4,5.8],[260.1,3.4],
  [261.9,4.6],[263.7,7.0],[265.4,5.2],[267.2,8.3],[268.9,4.6],[270.7,4.0],[272.4,7.0],[274.2,3.4],[275.9,0.4],[277.7,-0.9],[279.4,-2.1],
  [281.2,-1.5],[282.9,-2.7],[284.7,-0.9],[286.4,-1.5],[288.2,-0.2],[289.9,0.4],[291.7,1.6],[293.4,3.4],[295.2,1.6],[297,0.4],[298.7,1.0],
  [300.5,0.4],[302.2,1.6],[304,1.0],[305.7,1.6],[307.5,1.0],[309.2,0.4],[311,1.6],[312.7,4.6],[314.5,2.8],[316.2,0.4],[318,-0.2],[319.7,-0.9],
  [321.5,-1.2],[323.3,-1.5],[325,-1.5],[326.8,-0.9],[328.5,-1.2],[330.3,-0.5],[332,-0.2],[333.8,0.4],[335.5,1.0],[337.3,-0.2],[339,1.6],
  [340.8,0.4],[342.5,4.0],[343.6,8.9],[345,10.1],[347.1,10.7],[349.5,11.9],[351.3,10.1],[353,10.7],[354.8,11.9],[356.6,8.3],[358.3,8.9],
  [360.1,7.7],[361.8,10.7],[363.6,10.7],[365.3,14.9],[367.1,13.1],[368.8,16.8],[370.6,14.3],[372.3,18.0],[374.1,21.0],[375.8,22.2],
  [402.1,29.2],[403.2,27.1],[404.6,25.3],[406,22.8],[407.4,23.4],[409.2,22.2],[410.9,24.1],[412.7,22.8],[414.4,22.2],[416.2,16.2],[417.9,23.4],
  [419.7,25.5],[421.4,22.8],[423.2,24.1],[424.9,22.2],[426.7,23.4],[428.4,18.0],[430.2,17.4],[432,22.8],[433.7,24.1],[435.5,23.4],[437.2,24.7],
  [439,25.3],[440.7,25.9],[442.4,25.3],[444.2,24.7],[446,24.1],[447.7,25.3],[449.5,23.4],[451.2,22.8],[453,22.2],[454.7,21.6],[456.5,22.2],
  [458.2,22.2],[460,22.8],[463.5,23.4],[464.6,22.8],[468,23.4],[471.5,24.1],[473.2,25.5],[475,25.0],[476.7,24.1],
  [552.7,19.8],[556.2,19.2],[559.6,18.0],[561.3,17.4],[563.1,16.2],[564.8,13.7],[566.5,14.9],[568.3,16.8],[570,14.9],[571.7,16.2],[573.4,14.3],
  [575.2,16.8],[576.9,14.9],[578.6,14.3],[580.4,15.6],[582.1,16.8],[583.8,17.4],[585.5,13.7],[587.3,11.9],[589,12.5],[590.7,10.7],[592.5,11.3],
  [594.2,12.5],[595.9,12.5],[597.6,9.5],[599.4,8.9],[601.1,11.3],[602.8,10.7],[604.5,8.3],[606.3,11.9],[608,11.3],[609.7,9.5],[611.5,10.7],
  [613.2,8.3],[614.9,9.5],[616.6,11.3],[618.4,12.5],[620.1,10.7],[621.8,11.9],[623.5,9.5],[625.3,10.7],[627,7.0],[628.7,7.7],[630.5,11.9],
  [632.2,13.1],[633.9,14.3],[635.6,11.9],[637.4,10.7],[639.1,8.9],[640.8,6.4],[642.6,5.2],[644.3,5.8],[646,7.0],[647.7,4.6],[649.5,4.0],
  [651.2,4.0],[652.9,3.4],[654.7,2.2],[656.4,1.6],[658.1,1.0],[659.8,1.0],[661.6,1.2],[663.3,1.6],[665,1.6],[666.8,2.2],[668.5,3.4],[670.2,5.2],
  [672,9.5],[673.7,10.1],[675.4,8.3],[677.1,5.8],[678.9,2.8],[680.6,1.6],[682.3,1.2],[684,1.0],[685.8,1.6],[687.5,2.8],[689.2,8.3],[690.9,9.5],
  [692.7,7.7],[694.4,8.3],[696.1,7.0],[697.9,6.4],[699.6,5.2],[701.3,5.8],[703,4.6],[704.8,7.0],[706.5,10.7],[708.2,14.3],[710,14.9],[711.7,15.6],
  [713.4,14.9],[715.1,14.3],[716.9,12.5],[718.6,10.7],[720.3,11.9],[722,10.1],[723.8,13.1],[725.5,13.7],[727.2,12.5],[729,11.9],[730.7,10.7],
  [732.4,11.3],[734.2,13.1],[735.9,10.7],[737.6,8.9],[739.3,7.7],[741,10.1],[742.8,11.9],[744.5,14.9],[746.2,17.4],[748,19.2],[749.7,21.0],
  [809.5,26.5],[811.9,26.7],[813.6,25.3],[815.4,25.9],[817.1,24.7],[818.8,24.1],[820.5,23.4],[822.3,22.2],[824,22.8],[825.7,24.7],[827.5,24.1],
  [829.2,23.4],[830.9,24.1],[832.6,24.7],[834.4,24.9],[836.1,24.7],[837.8,25.3],[839.6,25.5],[841.3,25.3],[843,25.9],[844.7,26.2],[846.5,26.7],
  [848.2,25.5],[849.9,25.3],[851.6,25.9],[853.4,25.5],[855.1,24.7],[856.8,25.3],[858.6,25.5],[860.3,24.7],[862,25.9],[863.8,25.3],[865.5,24.7],
  [867.2,24.1],[869,23.4],[870.7,24.1],[872.4,24.7],[874.1,23.4],[875.9,22.2],[877.6,22.8],[879.3,25.9],[881,25.3],[882.8,23.4],[884.5,21.6],
  [886.2,21.0],[888,22.8],[889.7,24.7],[891.4,25.9],[893.1,24.1],[894.8,22.8],[896.6,23.4]];

// ---------------------------------------------------------------
const W = 1213, PAD_TOP = 14, X_MAX = 914, LEFT_W = 94, RIGHT_W = 85;
const ORANGE = '#c47f2c';
const FONT = '"Liberation Sans", Arial, Helvetica, sans-serif';

Chart.defaults.font.family = FONT;
Chart.defaults.color = '#1a1a1a';
Chart.defaults.animation = false;
Chart.defaults.events = [];
Chart.defaults.plugins.legend.display = false;
Chart.defaults.plugins.tooltip.enabled = false;

const origin = Date.UTC(2014, 3, 1);
const dayOf = s => { const [m, d, y] = s.split('/').map(Number); return (Date.UTC(y, m - 1, d) - origin) / 864e5; };
const labelDays = dateLabels.map(dayOf);
const monthTicks = [];
for (let y = 2014, m = 3; ; m++) {
  if (m > 11) { m = 0; y++; }
  const d = (Date.UTC(y, m, 1) - origin) / 864e5;
  if (d > X_MAX) break;
  monthTicks.push(d);
}
const pts = a => a.map(([x, y]) => ({ x, y }));

function xAxis(box) {
  return {
    type: 'linear', min: 0, max: X_MAX, offset: false,
    display: box.xAxis,
    afterBuildTicks: s => { s.ticks = monthTicks.map(v => ({ value: v })); },
    afterFit: s => { s.height = box.below; },
    grid: { drawOnChartArea: false, drawTicks: true, tickLength: 6, color: '#111', lineWidth: 1.5 },
    border: { display: false },
    ticks: {
      display: !!box.labels, autoSkip: false, maxRotation: 0, minRotation: 0, padding: 8,
      color: '#111', font: { size: 18, weight: 'bold' },
      callback: v => { const i = labelDays.findIndex(d => Math.abs(d - v) < 0.5); return i < 0 ? '' : dateLabels[i]; }
    }
  };
}

function yAxis(min, max, ticks, fmt, pos) {
  return {
    type: 'linear', position: pos || 'left', min, max,
    afterBuildTicks: s => { s.ticks = ticks.map(v => ({ value: v })); },
    afterFit: s => { s.width = pos === 'right' ? RIGHT_W : LEFT_W; },
    grid: { drawOnChartArea: false, drawTicks: true, tickLength: 5, color: '#111', lineWidth: 1.5 },
    border: { display: false },
    ticks: { padding: 6, color: '#1a1a1a', font: { size: 17 }, callback: fmt }
  };
}

const framePlugin = {
  id: 'frame',
  afterDatasetsDraw(chart) {
    const { ctx, chartArea: a } = chart;
    ctx.save();
    ctx.strokeStyle = '#111';
    ctx.lineWidth = 2;
    ctx.strokeRect(a.left, a.top, a.right - a.left, a.bottom - a.top);
    ctx.lineWidth = 3;
    ctx.beginPath(); ctx.moveTo(a.left, a.top - 1); ctx.lineTo(a.left, a.bottom + 1); ctx.stroke();
    ctx.restore();
  }
};

// free text and legend marks, given in page coordinates
const notesPlugin = {
  id: 'notes',
  afterDraw(chart, args, opts) {
    const ctx = chart.ctx;
    const oy = parseFloat(chart.canvas.style.top);
    ctx.save();
    for (const it of opts.items || []) {
      const y = it.y - oy;
      if (it.type === 'bar') {
        ctx.fillStyle = it.color; ctx.fillRect(it.x1, y - it.h / 2, it.x2 - it.x1, it.h);
      } else if (it.type === 'line') {
        ctx.strokeStyle = it.color; ctx.lineWidth = it.w;
        ctx.beginPath(); ctx.moveTo(it.x1, y); ctx.lineTo(it.x2, y); ctx.stroke();
      } else if (it.type === 'dot') {
        ctx.fillStyle = '#000'; ctx.beginPath(); ctx.arc(it.x, y, it.r, 0, Math.PI * 2); ctx.fill();
      } else {
        const parts = it.parts || [[it.text, it.size, 0]];
        ctx.save();
        ctx.translate(it.x, y);
        if (it.rot) ctx.rotate(it.rot);
        ctx.fillStyle = '#111';
        ctx.textBaseline = 'middle';
        ctx.textAlign = 'left';
        let total = 0;
        for (const [t, sz] of parts) { ctx.font = `bold ${sz}px ${FONT}`; total += ctx.measureText(t).width; }
        let cx = it.align === 'center' ? -total / 2 : 0;
        for (const [t, sz, raise] of parts) {
          ctx.font = `bold ${sz}px ${FONT}`;
          ctx.fillText(t, cx, raise);
          cx += ctx.measureText(t).width;
        }
        ctx.restore();
      }
    }
    ctx.restore();
  }
};

function makeChart(id, box, datasets, yScales, items) {
  const canvas = document.getElementById(id);
  canvas.width = W;
  canvas.height = PAD_TOP + (box.bottom - box.top) + box.below;
  canvas.style.width = W + 'px';
  canvas.style.height = canvas.height + 'px';
  canvas.style.top = (box.top - PAD_TOP) + 'px';
  return new Chart(canvas, {
    type: 'line',
    data: { datasets },
    options: {
      responsive: false,
      devicePixelRatio: 1,
      layout: { padding: { top: PAD_TOP, left: 0, right: box.right ? 0 : RIGHT_W, bottom: box.xAxis ? 0 : box.below } },
      scales: Object.assign({ x: xAxis(box) }, yScales),
      plugins: { notes: { items } }
    },
    plugins: [framePlugin, notesPlugin]
  });
}

const simLine = data => ({ type: 'line', data: pts(data), borderColor: ORANGE, borderWidth: 1.6, pointRadius: 0, tension: 0, order: 1 });
const obsDots = data => ({ type: 'line', data: pts(data), showLine: false, pointRadius: 4.4, pointBackgroundColor: '#000', pointBorderWidth: 0, order: 0 });
const f2 = v => v.toFixed(2);

// Panel 1: rainfall / irrigation and air temperature
makeChart('p1', { top: 17, bottom: 227, below: 10, xAxis: true, right: true }, [
  { type: 'line', data: pts(airTemp), yAxisID: 'y2', borderColor: '#707070', borderWidth: 1.2, pointRadius: 0, tension: 0, order: 0 },
  { type: 'bar', data: pts(irrigation), backgroundColor: '#2fa82f', barThickness: 1.6, grouped: false, order: 1 },
  { type: 'bar', data: pts(precip), backgroundColor: '#000', barThickness: 1.6, grouped: false, order: 2 }
], {
  y: yAxis(0, 0.2, rainTicks, f2),
  y2: yAxis(-50, 50, airTicks, v => String(v), 'right')
}, [
  { type: 'text', text: 'Rainfall/Irrigation (m)', size: 20, x: 21, y: 121, rot: -Math.PI / 2, align: 'center' },
  { type: 'text', text: 'Air temperature (°C)', size: 19, x: 1196, y: 117, rot: -Math.PI / 2, align: 'center' },
  { type: 'bar', x1: 906, x2: 946, y: 133, h: 8, color: '#000' },
  { type: 'bar', x1: 906, x2: 946, y: 154, h: 8, color: '#1f8f1f' },
  { type: 'line', x1: 906, x2: 946, y: 176, w: 1, color: '#8a8a8a' },
  { type: 'text', text: 'Precipitation', size: 16, x: 954, y: 133 },
  { type: 'text', text: 'Irrigation', size: 16, x: 954, y: 154 },
  { type: 'text', text: 'Air temperature (°C)', size: 16, x: 954, y: 176 }
]);

// Panel 2: SWC 0.10 m
makeChart('p2', { top: 227, bottom: 403, below: 4, xAxis: false }, [obsDots(obs010), simLine(sim010)], {
  y: yAxis(0.1, 0.5, swcTicks, f2)
}, [
  { type: 'text', text: '0.10 m', size: 19, x: 103, y: 372 },
  { type: 'line', x1: 772, x2: 812, y: 354, w: 1.6, color: ORANGE },
  { type: 'dot', x: 792, y: 374, r: 4 },
  { type: 'text', text: 'Simulated', size: 16, x: 821, y: 354 },
  { type: 'text', text: 'Measured', size: 16, x: 821, y: 374 }
]);

// Panel 3: SWC 0.30 m
makeChart('p3', { top: 403, bottom: 572, below: 4, xAxis: false }, [obsDots(obs030), simLine(sim030)], {
  y: yAxis(0.1, 0.5, swcTicks, f2)
}, [
  { type: 'text', text: '0.30 m', size: 19, x: 103, y: 526 },
  { type: 'rich', parts: [['SWC (m', 21, 0], ['3', 16, -8], [' m', 21, 0], ['-3', 16, -8], [')', 21, 0]], x: 23, y: 485, rot: -Math.PI / 2, align: 'center' }
]);

// Panel 4: SWC 0.50 m
makeChart('p4', { top: 572, bottom: 750, below: 4, xAxis: false }, [obsDots(obs050), simLine(sim050)], {
  y: yAxis(0.1, 0.6, swcTicks50, f2)
}, [
  { type: 'text', text: '0.50 m', size: 19, x: 103, y: 718 }
]);

// Panel 5: soil temperature
makeChart('p5', { top: 750, bottom: 915, below: 40, xAxis: true, labels: true }, [obsDots(obsSoilT), simLine(simSoilT)], {
  y: yAxis(-15, 45, soilTicks, v => String(v))
}, [
  { type: 'rich', parts: [['Soil temperature (', 20, 0], ['o', 14, -7], ['C)', 20, 0]], x: 24, y: 846, rot: -Math.PI / 2, align: 'center' }
]);
</script>
</body>
</html>
